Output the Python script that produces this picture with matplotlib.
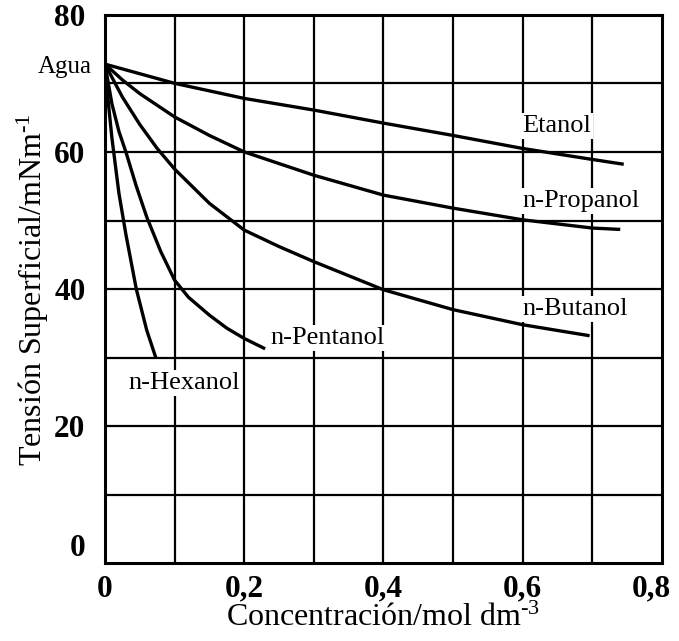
import matplotlib
matplotlib.use("Agg")
import matplotlib.pyplot as plt
import matplotlib.transforms as mtransforms

plt.rcParams['font.family'] = ['Liberation Serif', 'DejaVu Serif']
plt.rcParams['mathtext.fontset'] = 'custom'
plt.rcParams['mathtext.rm'] = 'Liberation Serif'
plt.rcParams['mathtext.it'] = 'Liberation Serif:italic'

# data (concentration mol/dm3, surface tension mN/m)
x_etanol = [0, 0.1, 0.2, 0.3, 0.4, 0.5, 0.6, 0.7, 0.745]
y_etanol = [72.8, 70.0, 67.8, 66.1, 64.2, 62.4, 60.5, 58.9, 58.2]

x_propanol = [0, 0.025, 0.05, 0.1, 0.15, 0.2, 0.3, 0.4, 0.5, 0.6, 0.7, 0.74]
y_propanol = [72.8, 70.5, 68.5, 65.1, 62.4, 60.0, 56.6, 53.7, 51.8, 50.1, 48.9, 48.7]

x_butanol = [0, 0.025, 0.05, 0.075, 0.1, 0.15, 0.2, 0.25, 0.3, 0.4, 0.5, 0.6, 0.696]
y_butanol = [72.8, 68.0, 64.0, 60.5, 57.5, 52.5, 48.6, 46.2, 44.0, 39.9, 37.0, 34.8, 33.2]

x_pentanol = [0, 0.01, 0.02, 0.03, 0.045, 0.06, 0.08, 0.1, 0.12, 0.15, 0.175, 0.2, 0.23]
y_pentanol = [72.8, 67.0, 63.0, 60.0, 55.0, 50.5, 45.5, 41.3, 38.8, 36.2, 34.3, 32.8, 31.3]

x_hexanol = [0, 0.005, 0.01, 0.02, 0.03, 0.045, 0.06, 0.073]
y_hexanol = [72.8, 67.0, 62.0, 54.0, 48.0, 40.0, 34.0, 30.0]

labels = ['Etanol', 'n-Propanol', 'n-Butanol', 'n-Pentanol', 'n-Hexanol']
label_x = [0.599, 0.599, 0.599, 0.237, 0.0335]
label_y = [62.85, 52.0, 36.2, 32.0, 25.4]

fig = plt.figure(figsize=(6.79, 6.41), dpi=100)
ax = fig.add_axes([0.1546, 0.121, 0.8204, 0.856])

for xs, ys in [(x_etanol, y_etanol), (x_propanol, y_propanol), (x_butanol, y_butanol),
               (x_pentanol, y_pentanol), (x_hexanol, y_hexanol)]:
    ax.plot(xs, ys, color='black', lw=2.4, zorder=4, solid_capstyle='butt',
            solid_joinstyle='round')

for i in range(1, 8):
    ax.axvline(i / 10, color='black', lw=1.6, zorder=1)
for j in range(1, 8):
    ax.axhline(j * 10, color='black', lw=1.6, zorder=1)

for t, lx, ly in zip(labels, label_x, label_y):
    ax.text(lx, ly, t, fontsize=19, ha='left', va='baseline', zorder=3,
            bbox=dict(facecolor='white', edgecolor='none', pad=1.5))

ax.text(-0.019, 71.5, 'Agua', fontsize=18, ha='right', va='baseline')

ax.set_xlim(0, 0.8)
ax.set_ylim(0, 80)
ax.set_xticks([0, 0.2, 0.4, 0.6, 0.8])
ax.set_xticklabels(['0', '0,2', '0,4', '0,6', '0,8'])
ax.set_yticks([0, 20, 40, 60, 80])
ax.set_yticklabels(['0', '20', '40', '60', '80'])
ax.tick_params(length=0, labelsize=22.5)
ax.tick_params(axis='x', pad=8)
ax.tick_params(axis='y', pad=14)
for lab in ax.get_xticklabels() + ax.get_yticklabels():
    lab.set_fontweight('bold')
ax.get_yticklabels()[0].set_va('bottom')
last = ax.get_xticklabels()[-1]
last.set_transform(last.get_transform() + mtransforms.ScaledTranslation(-8 / 72, 0, fig.dpi_scale_trans))

for s in ax.spines.values():
    s.set_linewidth(2.2)

# superscripts with a plain hyphen as in the original
ax.set_xlabel('Concentración/mol dm$^{\u20103}$', fontsize=23, labelpad=0)
ax.set_ylabel('Tensión Superficial/mNm$^{\u20101}$', fontsize=23, labelpad=2)

fig.savefig('out.png', dpi=100)
